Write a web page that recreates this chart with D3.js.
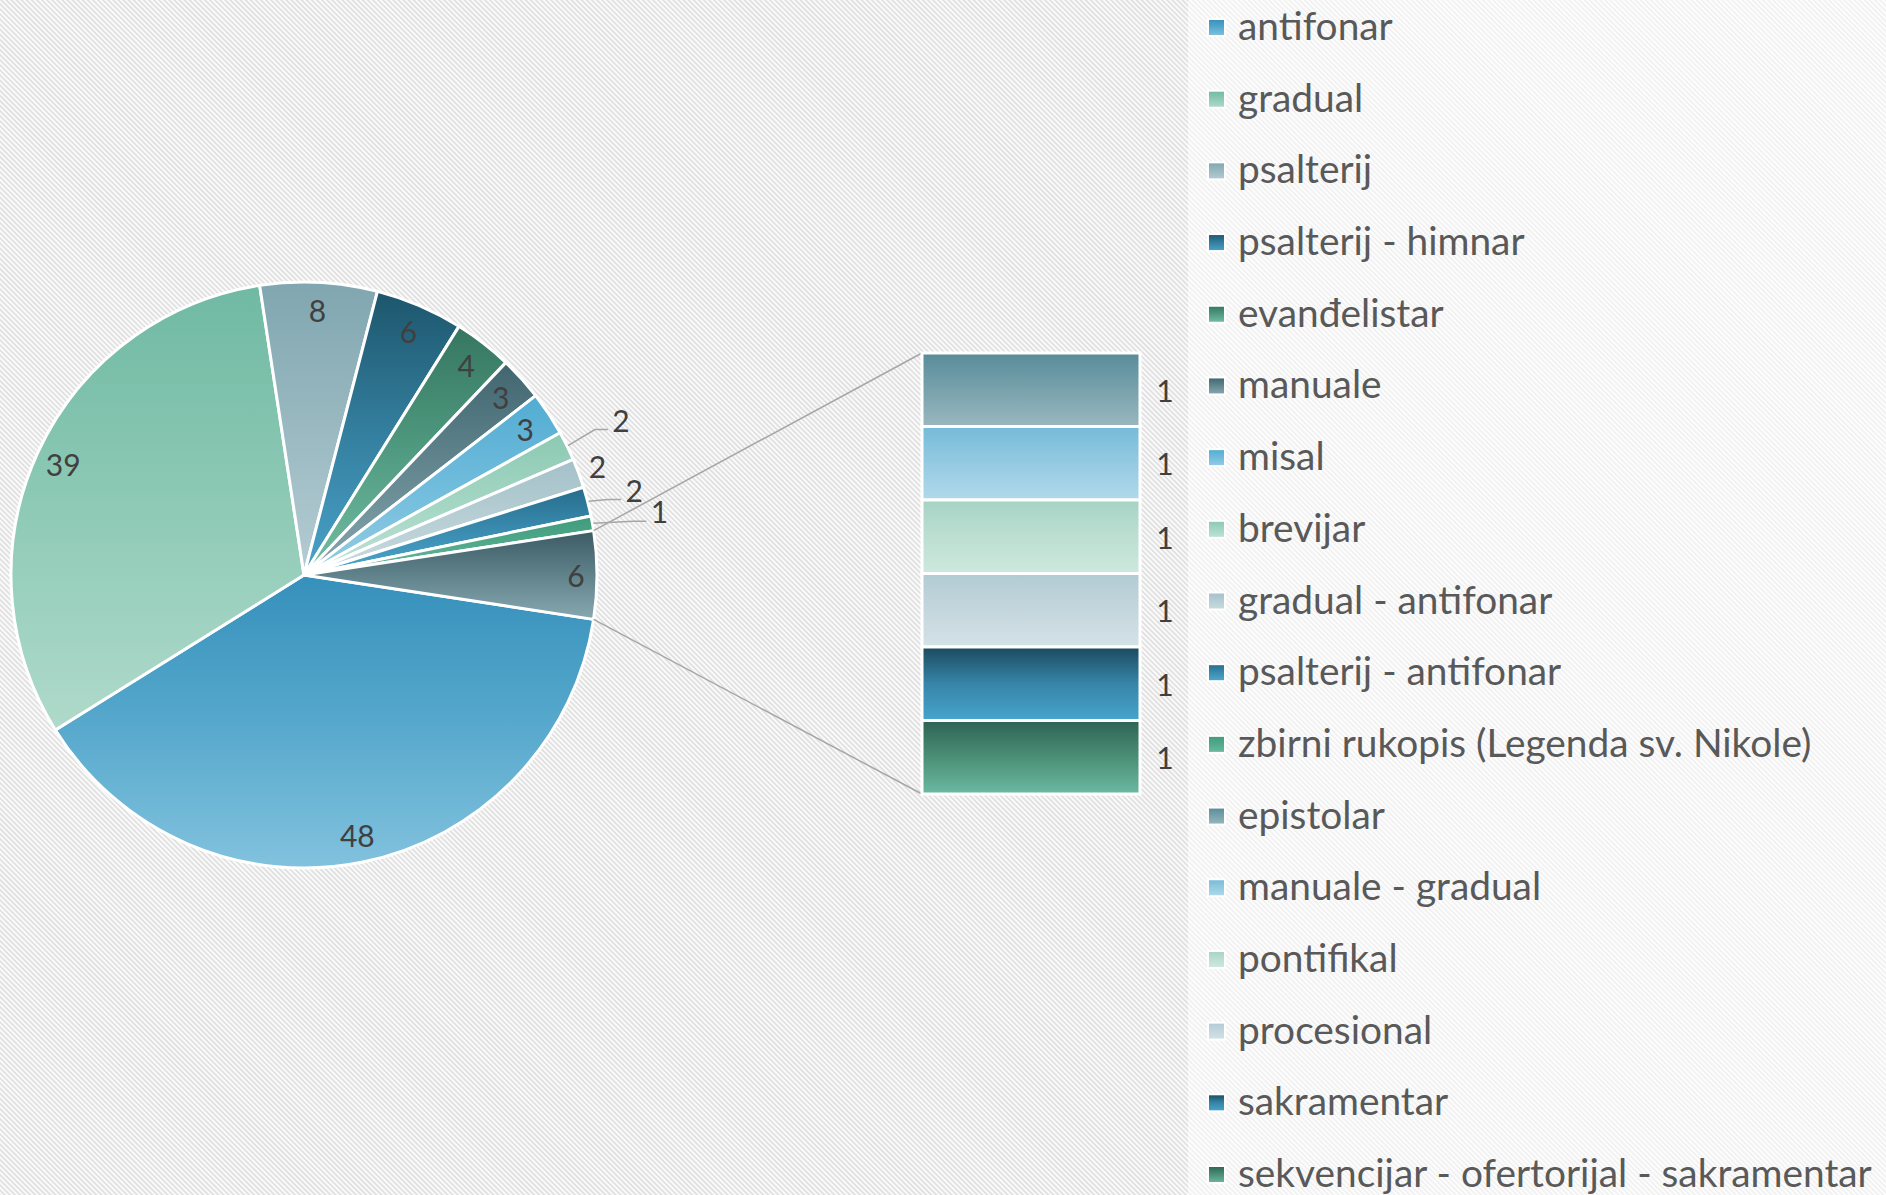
<!DOCTYPE html>
<html>
<head>
<meta charset="utf-8">
<script src="https://cdn.jsdelivr.net/npm/d3@7"></script>
<style>
  body { margin: 0; background: #fff; }
  svg { display: block; }
</style>
</head>
<body>
<div id="chart"></div>
<script>
// ---- data ----
const categories = [
    'antifonar', 'gradual', 'psalterij', 'psalterij - himnar', 'evanđelistar',
    'manuale', 'misal', 'brevijar', 'gradual - antifonar', 'psalterij - antifonar',
    'zbirni rukopis (Legenda sv. Nikole)', 'epistolar', 'manuale - gradual',
    'pontifikal', 'procesional', 'sakramentar', 'sekvencijar - ofertorijal - sakramentar'
];
const values = [48, 39, 8, 6, 4, 3, 3, 2, 2, 2, 1, 1, 1, 1, 1, 1, 1];
// the first 11 go in the pie, the last ones are pulled out into the bar
const pieCount = 11;

// gradient stops (top, middle, bottom) for every series, plus the "other" slice
const seriesColors = [
    ['#3590bb', '#56a8cc', '#82c2de'],
    ['#70b9a2', '#8ecab6', '#b0dacb'],
    ['#80a6b0', '#9ab9c1', '#b5ccd3'],
    ['#1d566c', '#347f9f', '#4aa2ca'],
    ['#367660', '#4f9a80', '#74bea4'],
    ['#41666f', '#63868f', '#88a9b1'],
    ['#52acd2', '#70bcdc', '#94cde5'],
    ['#8bc9b3', '#a4d6c4', '#bfe3d6'],
    ['#a4c0c8', '#b6ced4', '#cadbe0'],
    ['#266c8c', '#3a8cb0', '#4ea8ce'],
    ['#3f9a7c', '#52aa8c', '#6cbaa0'],
    ['#588c99', '#78a2ac', '#9ab7bf'],
    ['#76bbd8', '#94cae2', '#b2d9eb'],
    ['#a6d3c5', '#bcdfd2', '#cee8de'],
    ['#b2cbd3', '#c4d6dd', '#d4e2e7'],
    ['#1b4a5e', '#3785a8', '#46a4cc'],
    ['#2d6453', '#4b8f77', '#6cb9a1']
];
const otherColors = ['#3c5a64', '#60828b', '#88a8b0'];

// labels that sit outside the pie (index -> radius of the label)
const outsideLabels = {7: 353, 8: 313, 9: 341, 10: 361};

// ---- layout ----
const width = 1886, height = 1195;
const cx = 304, cy = 575, radius = 293;
const bar = {x0: 922, x1: 1140, y0: 353, y1: 794};
const legendBox = {x: 1188, top: 28, bottom: 1175};
const labelColor = '#404040';
const legendColor = '#595959';
const fontFamily = 'Lato, "Open Sans", sans-serif';
const labelSize = 30;

const svg = d3.select('#chart')
    .append('svg')
    .attr('width', width)
    .attr('height', height)
;
const defs = svg.append('defs');

// diagonal hatching of the background
const hatch = defs.append('pattern')
    .attr('id', 'hatch')
    .attr('width', 3.6)
    .attr('height', 3.6)
    .attr('patternUnits', 'userSpaceOnUse')
    .attr('patternTransform', 'rotate(-45)')
;
hatch.append('rect').attr('width', 3.6).attr('height', 3.6).attr('fill', '#fafafa');
hatch.append('rect').attr('width', 1.6).attr('height', 3.6).attr('fill', '#dedede');

svg.append('rect')
    .attr('width', width)
    .attr('height', height)
    .attr('fill', 'url(#hatch)')
;
// legend sits on a lighter panel
svg.append('rect')
    .attr('x', legendBox.x)
    .attr('width', width - legendBox.x)
    .attr('height', height)
    .attr('fill', '#fff')
    .attr('opacity', 0.55)
;

function addGradient(id, stops) {
    let g = defs.append('linearGradient')
        .attr('id', id)
        .attr('x1', 0).attr('y1', 0)
        .attr('x2', 0).attr('y2', 1)
    ;
    g.selectAll('stop')
        .data(stops)
        .enter()
        .append('stop')
        .attr('offset', (d, i) => i / (stops.length - 1))
        .attr('stop-color', d => d)
    ;
}
seriesColors.forEach((s, i) => addGradient('grad' + i, s));
addGradient('gradOther', otherColors);
const fillOf = idx => idx === 'other' ? 'url(#gradOther)' : `url(#grad${idx})`;

// ---- pie ----
let pieData = categories.slice(0, pieCount).map((c, i) => ({name: c, value: values[i], idx: i}));
const otherValue = d3.sum(values.slice(pieCount));
pieData.push({name: 'other', value: otherValue, idx: 'other'});
const total = d3.sum(pieData, d => d.value);
// the "other" slice is centred on 3 o'clock
const half = Math.PI * otherValue / total;
const start = Math.PI / 2 + half;

const pie = d3.pie()
    .sort(null)
    .value(d => d.value)
    .startAngle(start)
    .endAngle(start + 2 * Math.PI)
;
const arcs = pie(pieData);
const arc = d3.arc().innerRadius(0).outerRadius(radius);
const polar = (a, r) => [cx + r * Math.sin(a), cy - r * Math.cos(a)];

const pieG = svg.append('g').attr('transform', `translate(${cx},${cy})`);
pieG.selectAll('path')
    .data(arcs)
    .enter()
    .append('path')
    .attr('d', arc)
    .attr('fill', d => fillOf(d.data.idx))
    .attr('stroke', '#fff')
    .attr('stroke-width', 3)
    .attr('stroke-linejoin', 'round')
;

// connector lines from the "other" slice to the bar
const otherArc = arcs[arcs.length - 1];
const p0 = polar(otherArc.startAngle, radius);
const p1 = polar(otherArc.endAngle, radius);
svg.append('line')
    .attr('x1', p0[0]).attr('y1', p0[1])
    .attr('x2', bar.x0).attr('y2', bar.y0)
    .attr('stroke', '#a6a6a6').attr('stroke-width', 1.5)
;
svg.append('line')
    .attr('x1', p1[0]).attr('y1', p1[1])
    .attr('x2', bar.x0).attr('y2', bar.y1)
    .attr('stroke', '#a6a6a6').attr('stroke-width', 1.5)
;

// pie labels
arcs.forEach(d => {
    let mid = (d.startAngle + d.endAngle) / 2;
    let outR = outsideLabels[d.data.idx];
    let inR = d.data.idx === 'other' ? 272 : 265;
    let pos = polar(mid, outR || inR);
    if (outR && outR > 320) {
        let edge = polar(mid, radius + 1);
        svg.append('polyline')
            .attr('points', [edge, [pos[0] - 26, pos[1] + 10], [pos[0] - 13, pos[1] + 10]].join(' '))
            .attr('fill', 'none')
            .attr('stroke', '#a6a6a6')
            .attr('stroke-width', 1.5)
        ;
    }
    svg.append('text')
        .attr('x', pos[0])
        .attr('y', pos[1])
        .attr('text-anchor', 'middle')
        .attr('dominant-baseline', 'central')
        .attr('font-family', fontFamily)
        .attr('font-size', labelSize)
        .attr('fill', labelColor)
        .text(d.value)
    ;
});

// ---- bar of pie ----
const barData = categories.slice(pieCount).map((c, i) => ({name: c, value: values[pieCount + i], idx: pieCount + i}));
const barScale = d3.scaleLinear()
    .domain([0, otherValue])
    .range([bar.y0, bar.y1])
;
let acc = 0;
barData.forEach(d => { d.y0 = acc; acc += d.value; d.y1 = acc; });

svg.selectAll('rect.bar')
    .data(barData)
    .enter()
    .append('rect')
    .attr('class', 'bar')
    .attr('x', bar.x0)
    .attr('width', bar.x1 - bar.x0)
    .attr('y', d => barScale(d.y0))
    .attr('height', d => barScale(d.y1) - barScale(d.y0))
    .attr('fill', d => fillOf(d.idx))
    .attr('stroke', '#fff')
    .attr('stroke-width', 3)
;
svg.selectAll('text.barLabel')
    .data(barData)
    .enter()
    .append('text')
    .attr('class', 'barLabel')
    .attr('x', bar.x1 + 25)
    .attr('y', d => (barScale(d.y0) + barScale(d.y1)) / 2)
    .attr('text-anchor', 'middle')
    .attr('dominant-baseline', 'central')
    .attr('font-family', fontFamily)
    .attr('font-size', labelSize)
    .attr('fill', labelColor)
    .text(d => d.value)
;

// ---- legend ----
const legendY = d3.scalePoint()
    .domain(categories)
    .range([legendBox.top, legendBox.bottom])
;
const legend = svg.append('g');
const rows = legend.selectAll('g')
    .data(categories)
    .enter()
    .append('g')
    .attr('transform', c => `translate(${legendBox.x + 20}, ${legendY(c)})`)
;
rows.append('rect')
    .attr('x', 0)
    .attr('y', -9)
    .attr('width', 17)
    .attr('height', 17)
    .attr('fill', (c, i) => fillOf(i))
    .attr('stroke', '#fff')
    .attr('stroke-width', 2)
;
const legendText = rows.append('text')
    .attr('x', 30)
    .attr('y', -3)
    .attr('dominant-baseline', 'central')
    .attr('font-family', fontFamily)
    .attr('font-size', 36)
    .attr('fill', legendColor)
    .text(c => c)
;
// scale the legend font so the longest entry ends near the right edge like the source
const longest = d3.max(legendText.nodes(), n => n.getComputedTextLength());
const fitSize = 36 * 634 / longest;
legendText.attr('font-size', fitSize);
</script>
</body>
</html>
